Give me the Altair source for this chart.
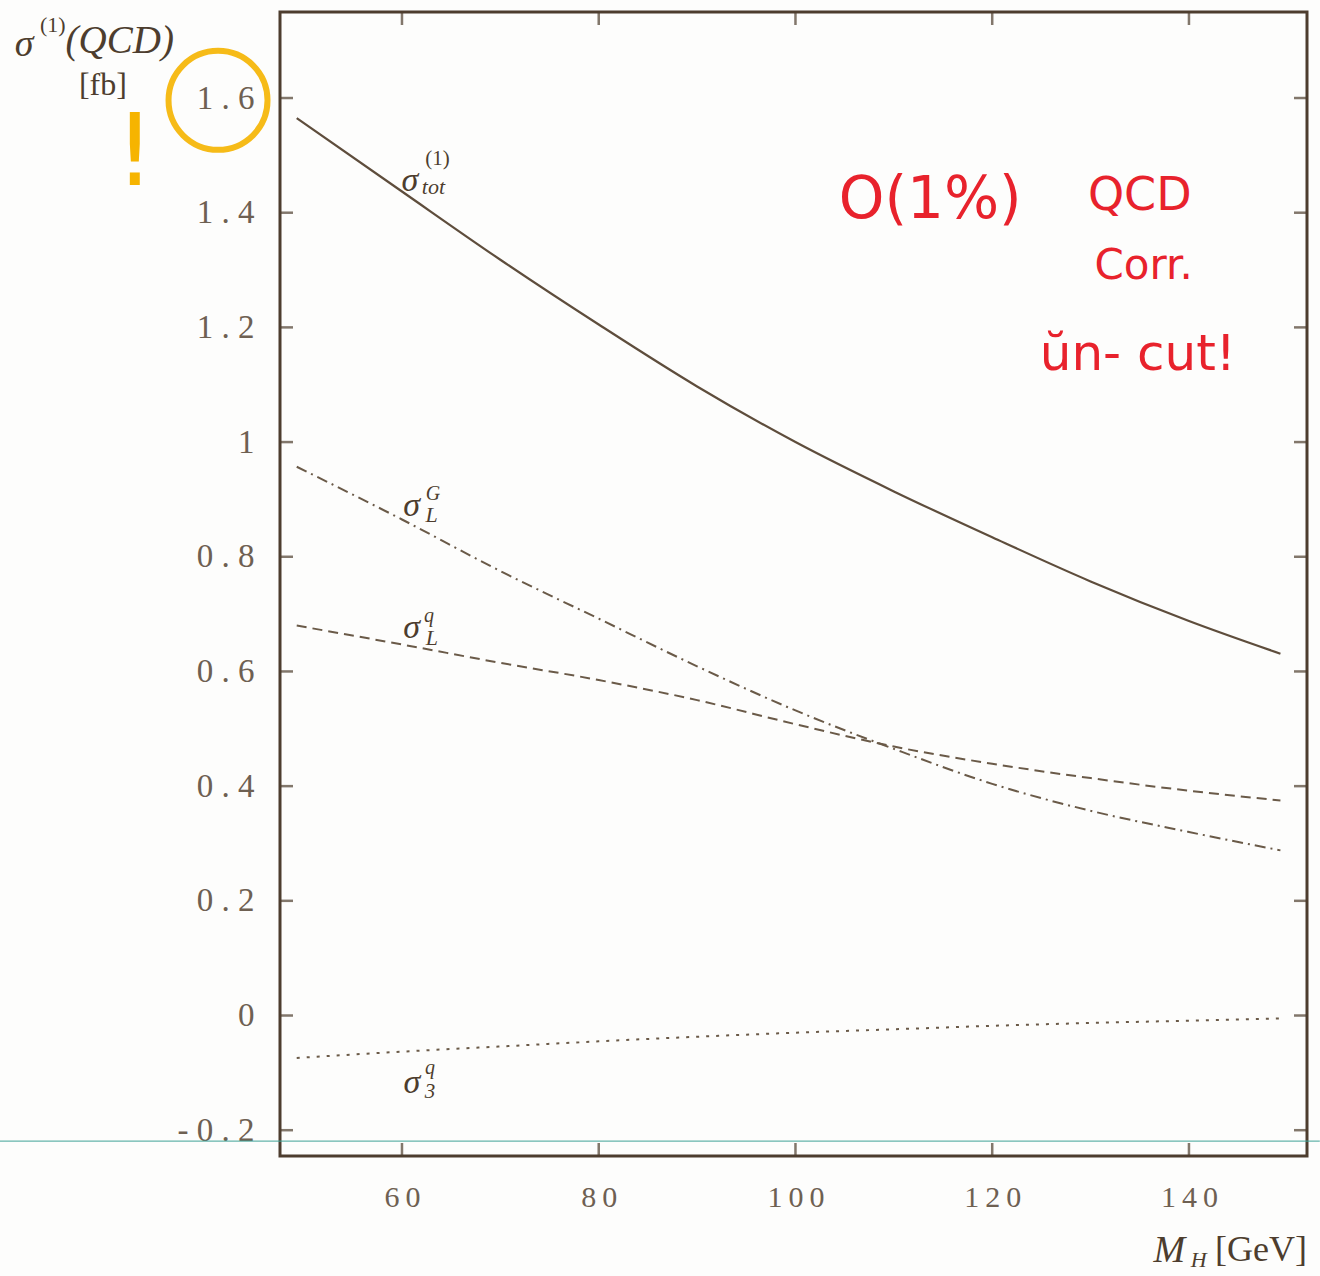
import altair as alt
import pandas as pd

# ---------------- data ----------------
mh = [49.3, 60, 70, 80, 90, 100, 110, 120, 130, 140, 149.3]
sig_tot = [1.565, 1.437, 1.318, 1.205, 1.097, 1.00, 0.914, 0.834, 0.757, 0.688, 0.631]
sig_LG = [0.957, 0.865, 0.775, 0.692, 0.609, 0.532, 0.465, 0.404, 0.357, 0.320, 0.288]
sig_Lq = [0.680, 0.647, 0.615, 0.585, 0.55, 0.508, 0.469, 0.439, 0.414, 0.392, 0.375]
sig_3q = [-0.074, -0.063, -0.054, -0.045, -0.037, -0.030, -0.024, -0.018, -0.013, -0.009, -0.005]

x_ticks = [60, 80, 100, 120, 140]
y_ticks = [-0.2, 0.0, 0.2, 0.4, 0.6, 0.8, 1.0, 1.2, 1.4, 1.6]

XMIN, XMAX = 47.6, 152.0
YMIN, YMAX = -0.245, 1.75

INK = "#4d3d2e"
LINE = "#6a5a48"
LABEL = "#6e6052"
SERIF = "Liberation Serif"

xs = alt.Scale(domain=[XMIN, XMAX], nice=False, zero=False)
ys = alt.Scale(domain=[YMIN, YMAX], nice=False, zero=False)

W, H = 1027, 1144


def line_layer(values, dash, color=LINE, width=2):
    df = pd.DataFrame({"mh": mh, "s": values})
    kw = {"color": color, "strokeWidth": width, "interpolate": "monotone"}
    if dash:
        kw["strokeDash"] = dash
    return alt.Chart(df).mark_line(**kw).encode(
        x=alt.X("mh:Q", scale=xs,
                axis=alt.Axis(values=x_ticks, title=None, ticks=False, domain=False, grid=False,
                              labelFont=SERIF, labelFontSize=30, labelColor=LABEL, labelPadding=26,
                              labelExpr="join(split(datum.label, ''), '\u2009')")),
        y=alt.Y("s:Q", scale=ys,
                axis=alt.Axis(values=y_ticks, title=None, ticks=False, domain=False, grid=False,
                              labelFont=SERIF, labelFontSize=33, labelColor=LABEL, labelPadding=26,
                              labelExpr="join(split(toString(round(datum.value*10)/10), ''), ' ')")),
    )


def text_layer(xv, yv, texts, size, color=INK, italic=False, align="center", font=SERIF,
               weight="normal"):
    df = pd.DataFrame({"x": xv, "y": yv, "t": texts})
    return alt.Chart(df).mark_text(
        font=font, fontSize=size, color=color, align=align, baseline="middle",
        fontStyle="italic" if italic else "normal", fontWeight=weight,
    ).encode(x=alt.X("x:Q", scale=xs), y=alt.Y("y:Q", scale=ys), text="t:N")


# inward ticks on all four sides
ytick_df = pd.DataFrame({"v": y_ticks})
xtick_df = pd.DataFrame({"v": x_ticks})
tick_kw = dict(color=INK, thickness=2.5, size=13)
left_ticks = alt.Chart(ytick_df).mark_tick(orient="horizontal", xOffset=6.5, **tick_kw).encode(
    x=alt.datum(XMIN, scale=xs), y=alt.Y("v:Q", scale=ys))
right_ticks = alt.Chart(ytick_df).mark_tick(orient="horizontal", xOffset=-6.5, **tick_kw).encode(
    x=alt.datum(XMAX, scale=xs), y=alt.Y("v:Q", scale=ys))
bottom_ticks = alt.Chart(xtick_df).mark_tick(orient="vertical", yOffset=-6.5, **tick_kw).encode(
    x=alt.X("v:Q", scale=xs), y=alt.datum(YMIN, scale=ys))
top_ticks = alt.Chart(xtick_df).mark_tick(orient="vertical", yOffset=6.5, **tick_kw).encode(
    x=alt.X("v:Q", scale=xs), y=alt.datum(YMAX, scale=ys))

# scan line artefact (teal)
scan_df = pd.DataFrame({"x": [19.1], "x2": [153.3], "y": [-0.219]})
scan = alt.Chart(scan_df).mark_rule(color="#3fa396", strokeWidth=1.2, opacity=0.8).encode(
    x=alt.X("x:Q", scale=xs), x2="x2:Q", y=alt.Y("y:Q", scale=ys))

lines = [
    line_layer(sig_tot, None, color="#5e4d3c", width=2.2),
    line_layer(sig_LG, [11, 5, 2, 5]),
    line_layer(sig_Lq, [10, 6]),
    line_layer(sig_3q, [3, 7]),
]

# curve labels
labels = [
    text_layer([60.81, 60.99, 60.99, 61.02], [1.456, 0.889, 0.675, -0.117],
               ["σ", "σ", "σ", "σ"], 34, italic=True),
    text_layer([63.2, 63.02, 63.05], [1.444, 0.872, 0.658], ["tot", "L", "L"], 22, italic=True),
    text_layer([63.15, 62.75, 62.85], [0.910, 0.696, -0.091], ["G", "q", "q"], 20, italic=True),
    text_layer([63.6], [1.493], ["(1)"], 21),
    text_layer([62.85], [-0.134], ["3"], 21, italic=True),
]

# axis titles as text
titles = [
    text_layer([21.6], [1.692], ["σ"], 38, italic=True),
    text_layer([24.5], [1.728], ["(1)"], 22),
    text_layer([25.8], [1.700], ["(QCD)"], 39, italic=True, align="left"),
    text_layer([29.6], [1.622], ["[fb]"], 32),
    text_layer([152.0], [-0.4096], ["[GeV]"], 36, align="right"),
    text_layer([138.0], [-0.41], ["M"], 38, italic=True),
    text_layer([141.0], [-0.427], ["H"], 22, italic=True),
]

# hand-written annotations
RED = "#e8222c"
ORANGE = "#f6b400"
notes = [
    text_layer([113.7], [1.421], ["O(1%)"], 58, color=RED, font="DejaVu Sans"),
    text_layer([135.0], [1.429], ["QCD"], 46, color=RED, font="DejaVu Sans"),
    text_layer([135.4], [1.307], ["Corr."], 42, color=RED, font="DejaVu Sans"),
    text_layer([134.8], [1.151], ["ŭn- cut!"], 50, color=RED, font="DejaVu Sans"),
    text_layer([32.85], [1.50], ["!"], 100, color=ORANGE, font="DejaVu Sans"),
]
circ_df = pd.DataFrame({"x": [41.3], "y": [1.596]})
circle = alt.Chart(circ_df).mark_point(shape="circle", size=9800, filled=False, color=ORANGE,
                                        strokeWidth=6, opacity=0.9).encode(
    x=alt.X("x:Q", scale=xs), y=alt.Y("y:Q", scale=ys))

chart = alt.layer(
    scan, *lines, left_ticks, right_ticks, bottom_ticks, top_ticks,
    *labels, *titles, *notes, circle,
).properties(
    width=W, height=H,
    autosize=alt.AutoSizeParams(type="none"),
    padding={"left": 280, "top": 12, "right": 13, "bottom": 120},
    background="#fdfdfc",
).configure_view(stroke=INK, strokeWidth=3)

chart.save("out.html", embed_options={"renderer": "svg", "actions": False})
